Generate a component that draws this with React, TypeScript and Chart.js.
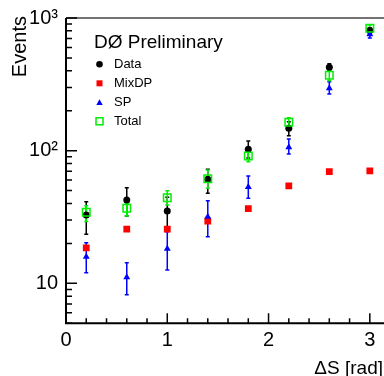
import React, { useEffect, useRef } from "react";
import { Chart, registerables } from "chart.js";

Chart.register(...registerables);

// ---- data ----
const binCenters = [0.2, 0.6, 1.0, 1.4, 1.8, 2.2, 2.6, 3.0];

const dataValues = [32.7, 42.5, 35.1, 60.8, 102.4, 147.5, 425, 805];
const dataLow = [23.5, 32.2, 25.8, 47.7, 88, 129.7, 399, 770];
const dataHigh = [41.2, 52.6, 44.5, 72.4, 118.3, 165.3, 452, 840];

const mixdpValues = [18.5, 25.6, 25.6, 29.5, 36.6, 54.3, 69.5, 70.5];

const spValues = [15.9, 11.1, 18.2, 31.8, 53.2, 106, 295, 753];
const spLow = [12.0, 8.2, 12.6, 22.5, 43.8, 94.4, 267, 708];
const spHigh = [20.2, 14.3, 24.5, 42, 64.4, 122.5, 331, 800];

const totalValues = [34.3, 36.8, 44.2, 61.5, 91.2, 163.6, 370, 836];
const totalLow = [29.2, 32.2, 39, 52, 82.6, 151, 336, 786];
const totalHigh = [38.5, 39.8, 49.9, 71.5, 101, 177, 399, 885];

const xTicks = [0, 1, 2, 3];
const yTicks = [10, 100, 1000];
const yTickLabels = ["10", "10²", "10³"];

const seriesNames = ["Data", "MixDP", "SP", "Total"];
const titleText = "DØ Preliminary";
const xTitle = "ΔS [rad]";
const yTitle = "Events";

const FONT = "'Liberation Sans', Arial, Helvetica, sans-serif";

const toPoints = (vals: number[]) => binCenters.map((x, i) => ({ x, y: vals[i] }));

const decorPlugin = {
  id: "rootDecor",
  beforeDatasetsDraw(chart: any) {
    const ctx = chart.ctx;
    const xs = chart.scales.x;
    const ys = chart.scales.y;
    const bars: [number[], number[], string][] = [
      [dataLow, dataHigh, "#000000"],
      [spLow, spHigh, "#0000ff"],
      [totalLow, totalHigh, "#00ee00"],
    ];
    ctx.save();
    ctx.lineWidth = 1.5;
    bars.forEach(([lo, hi, col]) => {
      ctx.strokeStyle = col;
      binCenters.forEach((xv, i) => {
        const px = xs.getPixelForValue(xv);
        const y1 = ys.getPixelForValue(lo[i]);
        const y2 = ys.getPixelForValue(hi[i]);
        ctx.beginPath();
        ctx.moveTo(px, y1);
        ctx.lineTo(px, y2);
        ctx.moveTo(px - 2, y1);
        ctx.lineTo(px + 2, y1);
        ctx.moveTo(px - 2, y2);
        ctx.lineTo(px + 2, y2);
        ctx.stroke();
      });
    });
    ctx.restore();
  },
  afterDraw(chart: any) {
    const ctx = chart.ctx;
    const xs = chart.scales.x;
    const ys = chart.scales.y;
    const a = chart.chartArea;
    ctx.save();
    // frame top
    ctx.strokeStyle = "#444";
    ctx.lineWidth = 1.5;
    ctx.beginPath();
    ctx.moveTo(a.left, a.top);
    ctx.lineTo(a.right, a.top);
    ctx.stroke();
    // axes
    ctx.strokeStyle = "#000";
    ctx.lineWidth = 2;
    ctx.beginPath();
    ctx.moveTo(a.left, a.top);
    ctx.lineTo(a.left, a.bottom);
    ctx.lineTo(a.right, a.bottom);
    ctx.stroke();
    // y ticks (log)
    ctx.lineWidth = 1.5;
    ctx.beginPath();
    for (let d = 1; d <= 1000; d *= 10) {
      for (let k = 1; k <= 9; k++) {
        const v = k * d;
        if (v < ys.min || v > ys.max) continue;
        const py = ys.getPixelForValue(v);
        const len = k === 1 ? 11 : 6;
        ctx.moveTo(a.left, py);
        ctx.lineTo(a.left + len, py);
      }
    }
    // x ticks
    for (let i = 0; i * 0.2 <= xs.max + 1e-9; i++) {
      const v = i * 0.2;
      const px = xs.getPixelForValue(v);
      const len = i % 5 === 0 ? 10 : 5;
      ctx.moveTo(px, a.bottom);
      ctx.lineTo(px, a.bottom - len);
    }
    ctx.stroke();

    // axis titles
    ctx.fillStyle = "#000";
    ctx.font = `19px ${FONT}`;
    ctx.textAlign = "right";
    ctx.textBaseline = "alphabetic";
    ctx.fillText(xTitle, 383, 374);
    ctx.save();
    ctx.translate(25.5, 16);
    ctx.rotate(-Math.PI / 2);
    ctx.font = `20px ${FONT}`;
    ctx.textAlign = "right";
    ctx.fillText(yTitle, 0, 0);
    ctx.restore();

    // title
    ctx.textAlign = "left";
    ctx.font = `19px ${FONT}`;
    ctx.fillText(titleText, 94, 48);

    // legend
    const rowsY = [64.3, 83.3, 102.7, 121.3];
    const mx = 99.5;
    ctx.font = `13px ${FONT}`;
    ctx.textBaseline = "middle";
    seriesNames.forEach((name, i) => {
      const y = rowsY[i];
      ctx.fillStyle = "#000";
      ctx.fillText(name, 114, y);
      if (i === 0) {
        ctx.fillStyle = "#000";
        ctx.beginPath();
        ctx.arc(mx, y, 3.3, 0, Math.PI * 2);
        ctx.fill();
      } else if (i === 1) {
        ctx.fillStyle = "#ff0000";
        ctx.fillRect(mx - 3, y - 3, 6, 6);
      } else if (i === 2) {
        ctx.fillStyle = "#0000ff";
        ctx.beginPath();
        ctx.moveTo(mx, y - 3.5);
        ctx.lineTo(mx + 3.2, y + 2.3);
        ctx.lineTo(mx - 3.2, y + 2.3);
        ctx.closePath();
        ctx.fill();
      } else {
        ctx.strokeStyle = "#00ee00";
        ctx.lineWidth = 1.5;
        ctx.strokeRect(mx - 3.5, y - 3.5, 7, 7);
      }
    });
    ctx.restore();
  },
};

export default function App() {
  const ref = useRef<HTMLCanvasElement | null>(null);
  useEffect(() => {
    if (!ref.current) return;
    const chart = new Chart(ref.current, {
      type: "scatter",
      data: {
        datasets: [
          {
            label: "Total",
            data: toPoints(totalValues),
            pointStyle: "rect",
            pointRadius: 5.3,
            pointBackgroundColor: "rgba(0,0,0,0)",
            pointBorderColor: "#00ee00",
            pointBorderWidth: 1.5,
            order: 1,
          },
          {
            label: "SP",
            data: toPoints(spValues),
            pointStyle: "triangle",
            pointRadius: 4,
            pointBackgroundColor: "#0000ff",
            pointBorderColor: "#0000ff",
            pointBorderWidth: 0,
            order: 2,
          },
          {
            label: "MixDP",
            data: toPoints(mixdpValues),
            pointStyle: "rect",
            pointRadius: 4.8,
            pointBackgroundColor: "#ff0000",
            pointBorderColor: "#ff0000",
            pointBorderWidth: 0,
            order: 3,
          },
          {
            label: "Data",
            data: toPoints(dataValues),
            pointStyle: "circle",
            pointRadius: 3.5,
            pointBackgroundColor: "#000000",
            pointBorderColor: "#000000",
            pointBorderWidth: 0,
            order: 4,
          },
        ],
      },
      options: {
        animation: false,
        responsive: false,
        devicePixelRatio: 1,
        layout: { autoPadding: false, padding: { top: 18, left: 0, right: 0, bottom: 0 } },
        plugins: {
          legend: { display: false },
          tooltip: { enabled: false },
        },
        scales: {
          x: {
            type: "linear",
            min: 0,
            max: 3.14,
            border: { display: false },
            grid: { display: false, drawTicks: false },
            afterBuildTicks: (s: any) => {
              s.ticks = xTicks.map((v) => ({ value: v }));
            },
            afterFit: (s: any) => {
              s.height = 52.7;
              s.paddingLeft = 0;
              s.paddingRight = 0;
            },
            ticks: {
              autoSkip: false,
              maxRotation: 0,
              padding: 5,
              color: "#000",
              font: { family: FONT, size: 20 },
              callback: (v: any) => String(v),
            },
          },
          y: {
            type: "logarithmic",
            min: 5,
            max: 1000,
            border: { display: false },
            grid: { display: false, drawTicks: false },
            afterBuildTicks: (s: any) => {
              s.ticks = yTicks.map((v) => ({ value: v }));
            },
            afterFit: (s: any) => {
              s.width = 66;
              s.paddingTop = 0;
              s.paddingBottom = 0;
            },
            ticks: {
              autoSkip: false,
              padding: 8,
              color: "#000",
              font: { family: FONT, size: 20 },
              callback: (v: any) => {
                const i = yTicks.indexOf(Number(v));
                return i >= 0 ? yTickLabels[i] : "";
              },
            },
          },
        },
      },
      plugins: [decorPlugin],
    });
    return () => chart.destroy();
  }, []);
  return (
    <div style={{ position: "absolute", left: 0, top: 0, width: 384, height: 376, background: "#fff" }}>
      <canvas ref={ref} width={384} height={376} style={{ display: "block" }} />
    </div>
  );
}
